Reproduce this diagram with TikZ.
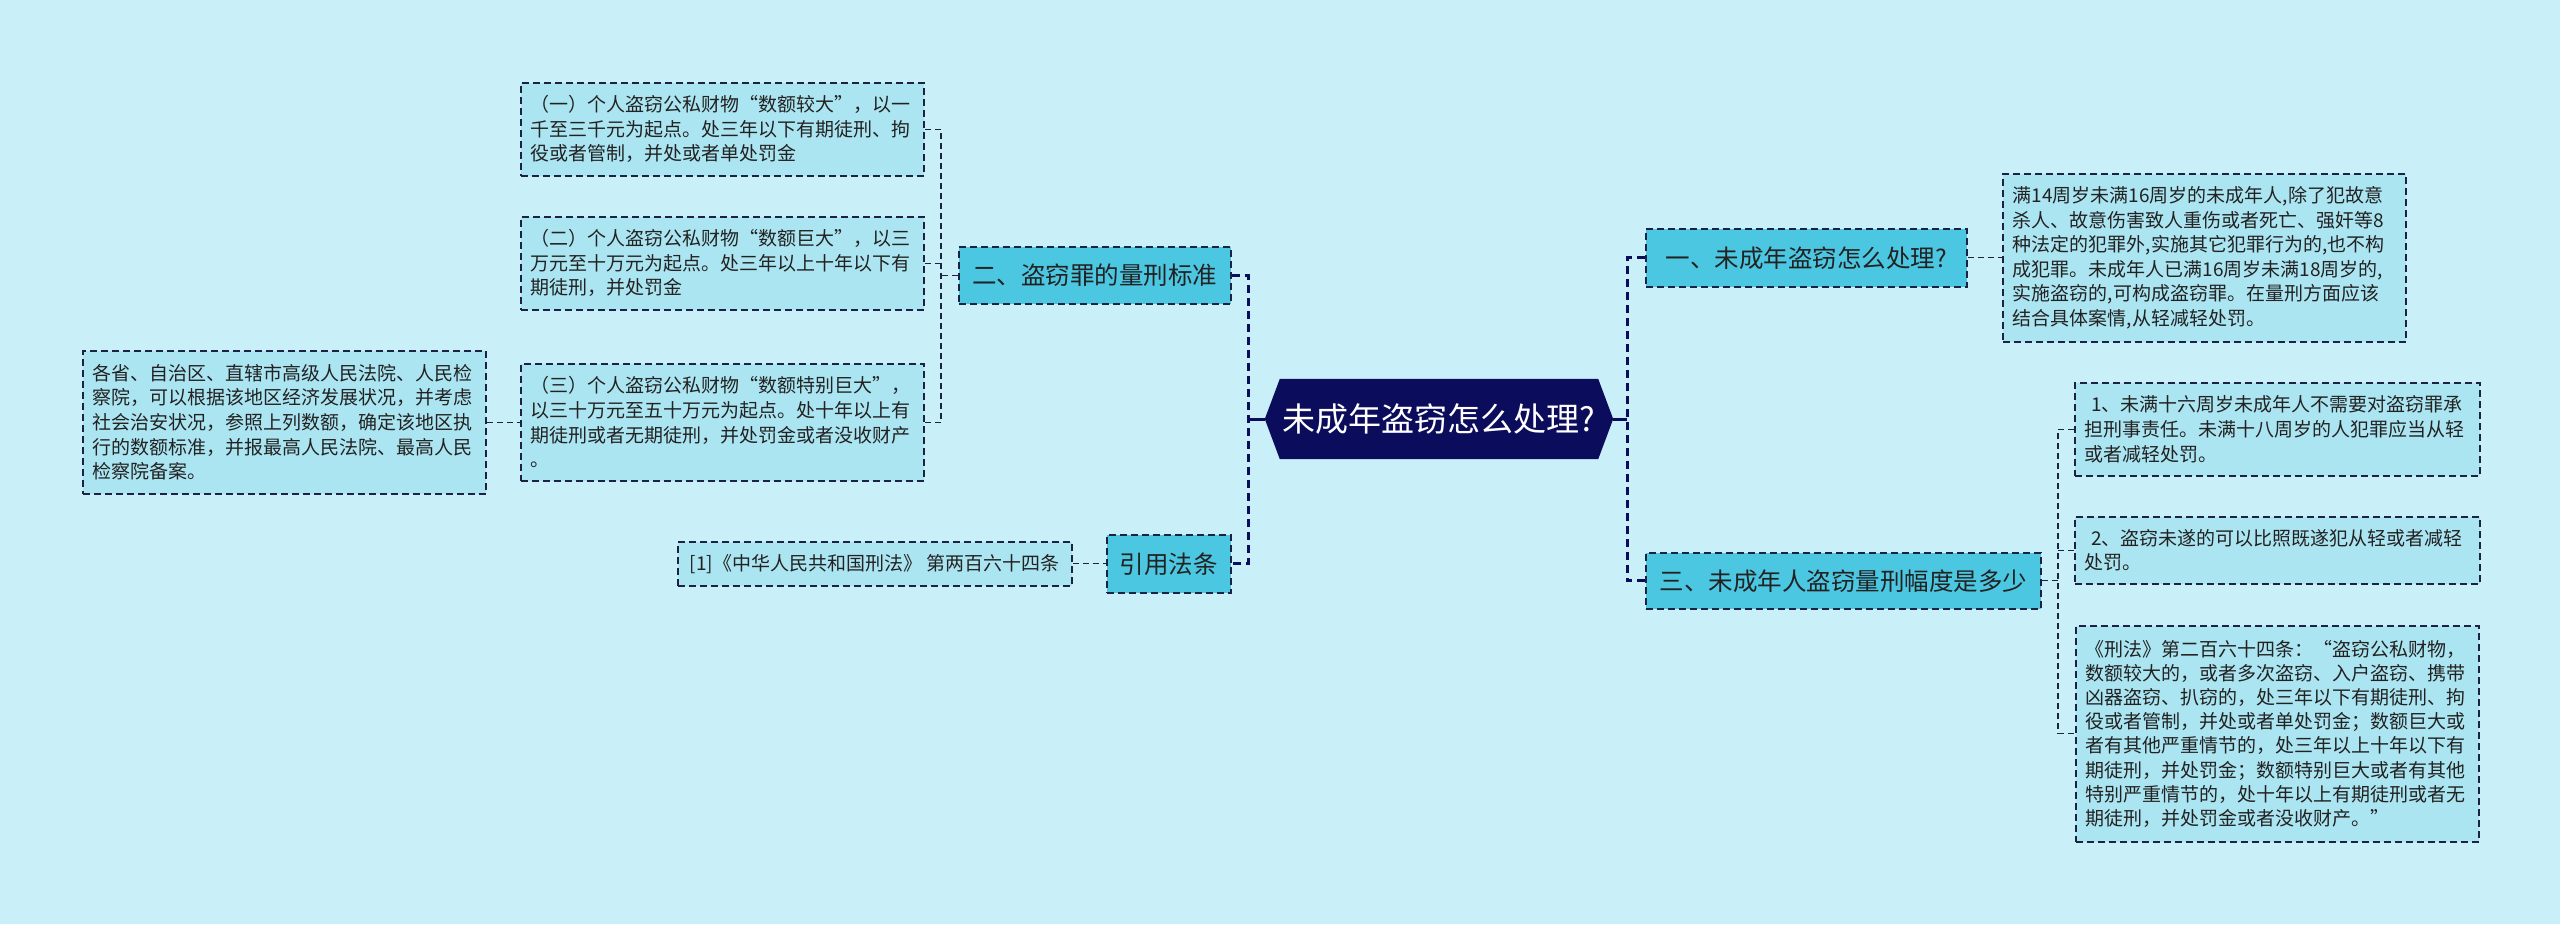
\documentclass[tikz,border=0pt]{standalone}
\usepackage{fontspec}
\setmainfont{Noto Sans CJK SC}
\usetikzlibrary{backgrounds}
\definecolor{bgc}{RGB}{201,240,248}
\definecolor{navy}{RGB}{12,12,92}
\definecolor{brfill}{RGB}{76,199,226}
\definecolor{lffill}{RGB}{172,229,242}
\definecolor{bord}{RGB}{28,34,66}
\definecolor{txt}{RGB}{34,34,34}
\begin{document}
\begin{tikzpicture}[x=1pt,y=-1pt,
  box/.style={draw=bord, line width=1.5pt, dash pattern=on 7pt off 4pt, rectangle, anchor=north west, inner ysep=0pt, text=txt},
  leaf/.style={box, fill=lffill, font=\fontsize{19}{24.6}\selectfont, align=left, inner xsep=10pt},
  branch/.style={box, fill=brfill, font=\fontsize{24.5}{29}\selectfont, align=center, inner xsep=0pt},
  link/.style={draw=bord, line width=1.4pt, dash pattern=on 6pt off 4pt},
  spine/.style={draw=navy, line width=3pt, dash pattern=on 8pt off 5pt},
  rootlink/.style={draw=navy, line width=3pt}
]
\useasboundingbox (0,0) rectangle (2560,924);
\begin{scope}[on background layer]
  \fill[bgc] (0,0) rectangle (2560,924);
\end{scope}

% root
\node[font=\fontsize{33}{37}\selectfont, text=white, minimum width=348pt, minimum height=80pt, inner sep=0pt] (root) at (1439,419) {未成年盗窃怎么处理?};
\begin{scope}[on background layer]
  \fill[navy] (root.west) -- ([xshift=15pt]root.north west) -- ([xshift=-15pt]root.north east) -- (root.east) -- ([xshift=-15pt]root.south east) -- ([xshift=15pt]root.south west) -- cycle;
\end{scope}

% left branches
\node[branch, minimum width=272pt, minimum height=57pt] (b2) at (958,246) {二、盗窃罪的量刑标准};
\node[branch, minimum width=124pt, minimum height=58pt] (b4) at (1106,534) {引用法条};

\node[leaf, text width=383pt, minimum height=93pt] (la) at (520,82) {（一）个人盗窃公私财物“数额较大”，以一\\千至三千元为起点。处三年以下有期徒刑、拘\\役或者管制，并处或者单处罚金};
\node[leaf, text width=383pt, minimum height=93pt] (lb) at (520,216) {（二）个人盗窃公私财物“数额巨大”，以三\\万元至十万元为起点。处三年以上十年以下有\\期徒刑，并处罚金};
\node[leaf, text width=383pt, minimum height=117pt] (lc) at (520,363) {（三）个人盗窃公私财物“数额特别巨大”，\\以三十万元至五十万元为起点。处十年以上有\\期徒刑或者无期徒刑，并处罚金或者没收财产\\。};
\node[leaf, text width=383pt, minimum height=143pt] (ld) at (82,350) {各省、自治区、直辖市高级人民法院、人民检\\察院，可以根据该地区经济发展状况，并考虑\\社会治安状况，参照上列数额，确定该地区执\\行的数额标准，并报最高人民法院、最高人民\\检察院备案。};
\node[leaf, align=center, inner xsep=0pt, minimum width=394pt, minimum height=44pt] (cite) at (677,541) {[1]《中华人民共和国刑法》 第两百六十四条};

% right branches
\node[branch, minimum width=321pt, minimum height=58pt] (b1) at (1645,228) {一、未成年盗窃怎么处理?};
\node[branch, minimum width=395pt, minimum height=56pt] (b3) at (1645,552) {三、未成年人盗窃量刑幅度是多少};

\node[leaf, text width=383pt, minimum height=168pt] (l0) at (2002,173) {满14周岁未满16周岁的未成年人,除了犯故意\\杀人、故意伤害致人重伤或者死亡、强奸等8\\种法定的犯罪外,实施其它犯罪行为的,也不构\\成犯罪。未成年人已满16周岁未满18周岁的,\\实施盗窃的,可构成盗窃罪。在量刑方面应该\\结合具体案情,从轻减轻处罚。};
\node[leaf, text width=385pt, minimum height=93pt] (m1) at (2074,382) {\ 1、未满十六周岁未成年人不需要对盗窃罪承\\担刑事责任。未满十八周岁的人犯罪应当从轻\\或者减轻处罚。};
\node[leaf, text width=385pt, minimum height=67pt] (m2) at (2074,516) {\ 2、盗窃未遂的可以比照既遂犯从轻或者减轻\\处罚。};
\node[leaf, text width=383pt, minimum height=216pt, font=\fontsize{19}{24.2}\selectfont] (m3) at (2075,625) {《刑法》第二百六十四条：“盗窃公私财物，\\数额较大的，或者多次盗窃、入户盗窃、携带\\凶器盗窃、扒窃的，处三年以下有期徒刑、拘\\役或者管制，并处或者单处罚金；数额巨大或\\者有其他严重情节的，处三年以上十年以下有\\期徒刑，并处罚金；数额特别巨大或者有其他\\特别严重情节的，处十年以上有期徒刑或者无\\期徒刑，并处罚金或者没收财产。”};

% spine coordinates
\coordinate (sL) at (1248,419);
\coordinate (sR) at (1627,419);
\coordinate (s2) at (941,275);
\coordinate (s3) at (2058,580);

% connectors
\draw[rootlink] (root.west) -- (root.west -| sL);
\draw[rootlink] (root.east) -- (root.east -| sR);
\draw[spine] (b2.east) -- (b2.east -| sL) -- (b4.east -| sL) -- (b4.east);
\draw[spine] (b1.west) -- (b1.west -| sR) -- (b3.west -| sR) -- (b3.west);

\draw[link] (b2.west) -- (b2.west -| s2);
\draw[link] (la.east) -- (la.east -| s2) -- (lc.east -| s2) -- (lc.east);
\draw[link] (lb.east) -- (lb.east -| s2);
\draw[link] (ld.east) -- (lc.west);
\draw[link] (cite.east) -- (b4.west);

\draw[link] (b1.east) -- (l0.west);
\draw[link] (b3.east) -- (b3.east -| s3);
\draw[link] (m1.west) -- (m1.west -| s3) -- (m3.west -| s3) -- (m3.west);
\draw[link] (m2.west) -- (m2.west -| s3);
\end{tikzpicture}
\end{document}
